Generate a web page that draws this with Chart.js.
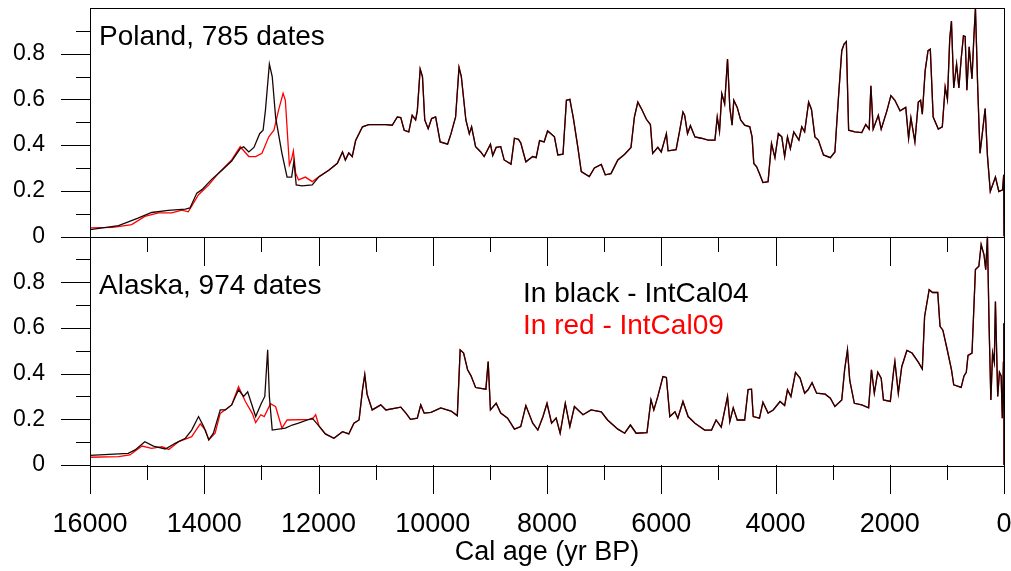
<!DOCTYPE html>
<html>
<head>
<meta charset="utf-8">
<script src="https://cdn.jsdelivr.net/npm/chart.js@4.4.0/dist/chart.umd.min.js"></script>
<style>
  body { margin: 0; background: #fff; }
  #wrap { width: 1011px; height: 571px; }
</style>
</head>
<body>
<div id="wrap"><canvas id="sums"></canvas></div>
<script>
// Poland, before the two calibrations join up
const polandBlackEarlyAge = [16000,15500,15160,14920,14630,14330,14250,14130,14040,13870,13690,13520,13370,13310,13220,13130,13030,12970,12930,12860,12810,12750,12640,12550,12470,12430,12390,12290,12110];
const polandBlackEarly = [0.03,0.048,0.08,0.105,0.114,0.12,0.125,0.19,0.205,0.25,0.29,0.33,0.385,0.393,0.37,0.39,0.45,0.465,0.55,0.755,0.70,0.52,0.364,0.26,0.26,0.33,0.226,0.222,0.226];
const polandRedEarlyAge = [16000,15600,15270,15040,14800,14570,14390,14280,14100,13920,13750,13520,13370,13220,13100,12990,12870,12780,12700,12620,12580,12510,12470,12440,12400,12350,12230,12110];
const polandRedEarly = [0.038,0.04,0.052,0.088,0.103,0.103,0.115,0.108,0.183,0.226,0.277,0.335,0.393,0.35,0.35,0.364,0.436,0.465,0.552,0.627,0.596,0.313,0.34,0.375,0.277,0.248,0.26,0.24];

// Poland, common part (both curves)
const polandAge = [11990,11820,11670,11580,11530,11470,11410,11350,11230,11120,10820,10710,10620,10560,10500,10420,10360,10300,10270,10220,10180,10140,10080,10020,9950,9870,9740,9680,9600,9540,9500,9420,9360,9320,9250,9160,9100,8990,8950,8890,8810,8750,8630,8570,8500,8460,8370,8250,8190,8130,8050,7990,7930,7870,7810,7720,7660,7600,7540,7460,7400,7260,7170,7050,6980,6880,6760,6640,6530,6470,6410,6340,6260,6190,6150,6060,6000,5910,5880,5740,5680,5620,5590,5540,5490,5410,5300,5180,5060,5020,4980,4940,4890,4840,4800,4760,4730,4670,4610,4540,4450,4410,4380,4330,4280,4220,4130,4070,4010,3950,3890,3840,3790,3740,3680,3590,3540,3490,3420,3370,3310,3250,3160,3040,2960,2930,2900,2840,2800,2760,2720,2610,2490,2420,2360,2330,2290,2200,2150,2050,1980,1910,1820,1720,1670,1630,1560,1500,1460,1430,1380,1330,1290,1240,1150,1080,1030,990,950,920,880,830,790,750,710,680,650,610,560,530,500,460,420,380,330,290,240,150,90,25,5,0];
const polandTail = [0.262,0.29,0.32,0.37,0.335,0.366,0.35,0.42,0.48,0.49,0.49,0.487,0.523,0.52,0.465,0.458,0.53,0.51,0.55,0.733,0.70,0.51,0.472,0.516,0.523,0.414,0.404,0.45,0.523,0.74,0.70,0.51,0.45,0.48,0.393,0.37,0.35,0.404,0.354,0.39,0.393,0.335,0.317,0.43,0.425,0.41,0.327,0.35,0.345,0.42,0.414,0.462,0.45,0.436,0.357,0.36,0.596,0.60,0.52,0.39,0.284,0.262,0.3,0.315,0.27,0.275,0.335,0.36,0.39,0.523,0.588,0.556,0.513,0.49,0.364,0.39,0.37,0.45,0.375,0.38,0.46,0.545,0.53,0.45,0.485,0.436,0.43,0.422,0.422,0.523,0.46,0.625,0.58,0.777,0.565,0.487,0.596,0.565,0.51,0.487,0.48,0.436,0.32,0.305,0.275,0.236,0.24,0.407,0.345,0.45,0.436,0.35,0.436,0.385,0.458,0.422,0.48,0.458,0.588,0.556,0.436,0.422,0.357,0.345,0.37,0.487,0.6,0.813,0.842,0.853,0.465,0.458,0.455,0.49,0.47,0.66,0.47,0.53,0.47,0.55,0.617,0.596,0.55,0.565,0.43,0.52,0.414,0.588,0.596,0.535,0.726,0.813,0.82,0.523,0.47,0.48,0.654,0.6,0.864,0.943,0.65,0.755,0.65,0.777,0.878,0.875,0.64,0.83,0.69,0.86,1.0,0.65,0.364,0.45,0.56,0.354,0.197,0.26,0.197,0.204,0.27,0.0];

// Alaska, before the two calibrations join up
const alaskaBlackEarlyAge = [16000,15330,15210,15040,14890,14680,14510,14330,14220,14100,14010,13920,13840,13720,13630,13520,13400,13310,13240,13100,13000,12940,12890,12860,12810,12580,12460,12350,12110];
const alaskaBlackEarly = [0.042,0.051,0.066,0.102,0.083,0.07,0.095,0.117,0.153,0.212,0.168,0.11,0.139,0.241,0.241,0.263,0.329,0.3,0.32,0.212,0.27,0.3,0.504,0.3,0.153,0.161,0.175,0.183,0.205];
const alaskaRedEarlyAge = [16000,15500,15300,15090,14920,14740,14620,14450,14330,14220,14070,13980,13920,13810,13720,13520,13400,13280,13160,13100,13010,12950,12840,12750,12640,12550,12110,12050];
const alaskaRedEarly = [0.034,0.037,0.044,0.083,0.073,0.08,0.068,0.102,0.113,0.124,0.18,0.153,0.11,0.139,0.226,0.263,0.343,0.278,0.226,0.186,0.22,0.212,0.268,0.255,0.161,0.197,0.2,0.22];

// Alaska, common part
const alaskaAge = [11990,11880,11730,11580,11470,11380,11290,11230,11190,11150,11060,10910,10820,10560,10470,10390,10270,10210,10150,10030,9860,9680,9570,9520,9460,9390,9330,9250,9070,9030,8990,8890,8810,8690,8570,8460,8370,8250,8160,8070,8000,7920,7840,7770,7680,7600,7520,7370,7230,7050,6940,6760,6640,6540,6440,6250,6180,6130,6060,5970,5910,5850,5760,5710,5620,5530,5410,5240,5120,5040,4950,4840,4800,4740,4670,4540,4480,4420,4390,4280,4220,4130,4040,3920,3840,3790,3730,3650,3570,3490,3430,3360,3280,3130,3040,2960,2840,2790,2740,2700,2620,2490,2370,2320,2270,2210,2150,2110,1990,1930,1910,1850,1790,1700,1610,1500,1430,1390,1310,1250,1160,1120,1070,990,920,880,750,700,660,630,560,500,440,400,350,320,290,260,230,200,170,150,110,80,50,30,10,3,0];
const alaskaTail = [0.17,0.136,0.117,0.146,0.136,0.183,0.197,0.329,0.395,0.31,0.241,0.263,0.241,0.253,0.227,0.2,0.205,0.263,0.227,0.23,0.25,0.236,0.216,0.504,0.49,0.417,0.39,0.339,0.332,0.453,0.241,0.27,0.227,0.205,0.157,0.168,0.26,0.183,0.153,0.212,0.27,0.183,0.205,0.139,0.27,0.168,0.256,0.22,0.241,0.233,0.197,0.157,0.139,0.175,0.139,0.142,0.285,0.241,0.3,0.387,0.383,0.212,0.233,0.205,0.278,0.212,0.183,0.153,0.153,0.197,0.166,0.3,0.19,0.25,0.197,0.197,0.33,0.332,0.212,0.205,0.275,0.227,0.241,0.278,0.26,0.329,0.3,0.405,0.38,0.314,0.329,0.36,0.314,0.31,0.292,0.256,0.285,0.417,0.504,0.37,0.27,0.263,0.25,0.417,0.314,0.406,0.38,0.285,0.278,0.417,0.453,0.314,0.43,0.501,0.49,0.45,0.42,0.65,0.767,0.755,0.755,0.607,0.59,0.5,0.417,0.351,0.34,0.39,0.406,0.48,0.49,0.855,0.87,0.965,0.92,0.855,1.0,0.6,0.285,0.49,0.45,0.716,0.3,0.406,0.39,0.205,0.45,0.62,0.0];

const xTicks = [0,2000,4000,6000,8000,10000,12000,14000,16000];
const yTicks = [0,0.2,0.4,0.6,0.8];

const FONT = "'Liberation Sans', Arial, sans-serif";

function pts(ages, vals) {
  return ages.map((a, i) => ({ x: a, y: vals[i] }));
}

// ticks (major + minor), panel frames and the text labels
const decor = {
  id: 'decor',
  afterDraw(chart) {
    const ctx = chart.ctx;
    const sx = chart.scales.x;
    const panels = [chart.scales.yP, chart.scales.yA];
    ctx.save();
    ctx.strokeStyle = '#000';
    ctx.lineWidth = 1;
    panels.forEach(s => {
      ctx.strokeRect(Math.round(sx.left) + 0.5, Math.round(s.top) + 0.5,
        Math.round(sx.right - sx.left), Math.round(s.bottom - s.top));
      ctx.beginPath();
      for (let v = 0; v <= 16000; v += 1000) {
        const px = Math.round(sx.getPixelForValue(v)) + 0.5;
        const len = v % 2000 === 0 ? 29 : 15;
        ctx.moveTo(px, Math.round(s.bottom));
        ctx.lineTo(px, Math.round(s.bottom) + len);
      }
      for (let k = 0; k <= 9; k++) {
        const py = Math.round(s.getPixelForValue(k / 10)) + 0.5;
        const len = k % 2 === 0 ? 29 : 14;
        ctx.moveTo(Math.round(sx.left), py);
        ctx.lineTo(Math.round(sx.left) - len, py);
      }
      ctx.stroke();
    });

    ctx.font = '28px ' + FONT;
    ctx.textBaseline = 'alphabetic';
    ctx.textAlign = 'left';
    ctx.fillStyle = '#000';
    ctx.fillText('Poland, 785 dates', sx.left + 9, chart.scales.yP.top + 37);
    ctx.fillText('Alaska, 974 dates', sx.left + 9, chart.scales.yA.top + 57);
    ctx.fillText('In black - IntCal04', 523, chart.scales.yA.top + 65);
    ctx.fillStyle = '#ff0000';
    ctx.fillText('In red - IntCal09', 523, chart.scales.yA.top + 97);
    ctx.restore();
  }
};

function yScale() {
  return {
    type: 'linear',
    position: 'left',
    stack: 'panels',
    stackWeight: 1,
    min: 0,
    max: 1,
    afterBuildTicks: s => { s.ticks = yTicks.map(v => ({ value: v })); },
    afterFit: s => { s.width = 90; s.paddingTop = 0; s.paddingBottom = 0; },
    grid: { display: false, drawTicks: false },
    border: { display: false },
    ticks: {
      padding: 45,
      color: '#000',
      font: { family: FONT, size: 23 },
      callback: v => String(v)
    }
  };
}

const line = (data, axis, color, w) => ({
  data: data,
  yAxisID: axis,
  borderColor: color,
  borderWidth: w,
  pointRadius: 0,
  tension: 0,
  fill: false
});

new Chart('sums', {
  type: 'line',
  data: {
    datasets: [
      line(pts(polandBlackEarlyAge.concat(polandAge), polandBlackEarly.concat(polandTail)), 'yP', '#1a0404', 1.3),
      line(pts(polandRedEarlyAge.concat(polandAge), polandRedEarly.concat(polandTail)), 'yP', '#ff0000', 1.3),
      line(pts(alaskaBlackEarlyAge.concat(alaskaAge), alaskaBlackEarly.concat(alaskaTail)), 'yA', '#1a0404', 1.3),
      line(pts(alaskaRedEarlyAge.concat(alaskaAge), alaskaRedEarly.concat(alaskaTail)), 'yA', '#ff0000', 1.3)
    ]
  },
  options: {
    responsive: true,
    maintainAspectRatio: false,
    animation: false,
    layout: { padding: { top: 8, right: 7, left: 0, bottom: 0 } },
    plugins: { legend: { display: false }, tooltip: { enabled: false } },
    scales: {
      x: {
        type: 'linear',
        reverse: true,
        min: 0,
        max: 16000,
        afterBuildTicks: s => { s.ticks = xTicks.map(v => ({ value: v })); },
        afterFit: s => { s.height = 106; s.paddingLeft = 0; s.paddingRight = 0; },
        grid: { display: false, drawTicks: false },
        border: { display: false },
        ticks: {
          padding: 43,
          maxRotation: 0,
          color: '#000',
          font: { family: FONT, size: 27 },
          callback: v => String(v)
        },
        title: {
          display: true,
          text: 'Cal age (yr BP)',
          color: '#000',
          font: { family: FONT, size: 27 },
          padding: { top: 0, bottom: 2 }
        }
      },
      yA: yScale(),
      yP: yScale()
    }
  },
  plugins: [decor]
});
</script>
</body>
</html>
